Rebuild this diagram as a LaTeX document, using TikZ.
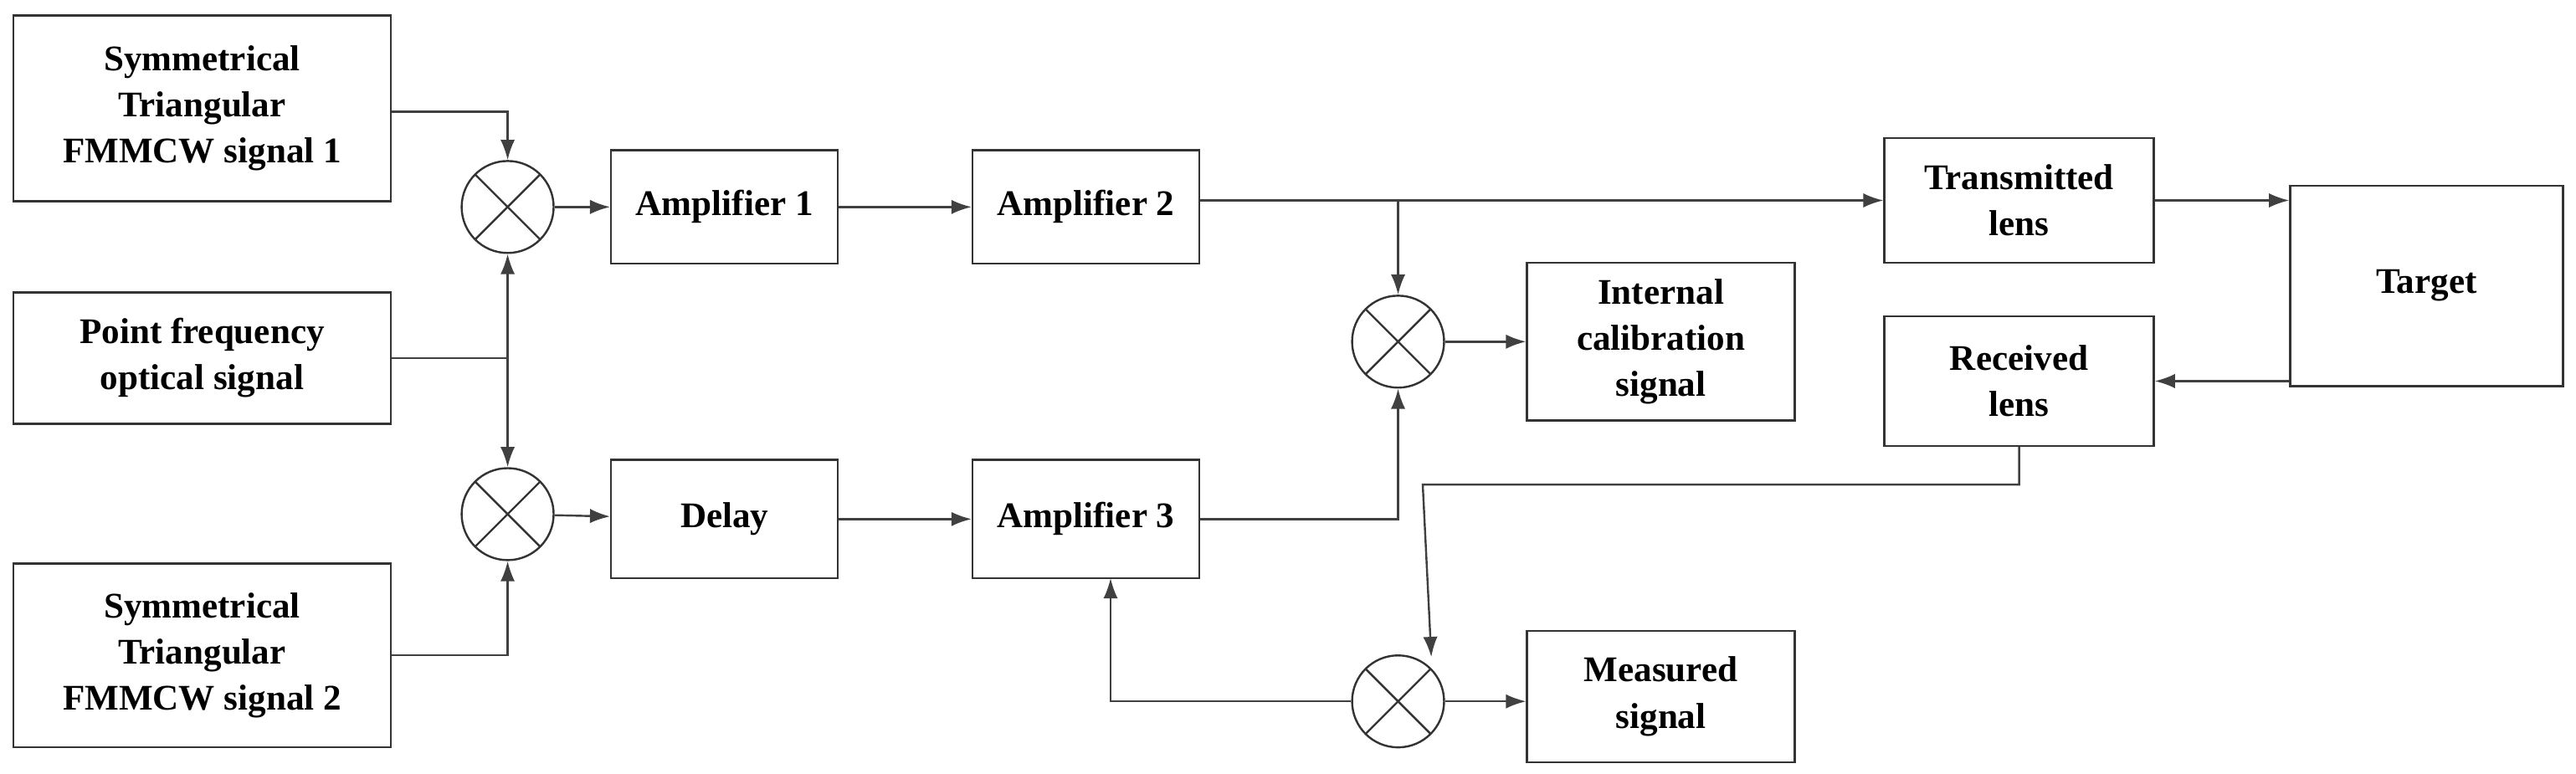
\documentclass[tikz,border=0pt]{standalone}
\usepackage{fontspec}
\setmainfont{Liberation Serif}
\usetikzlibrary{arrows.meta}
\begin{document}
\begin{tikzpicture}[x=0.02cm,y=-0.02cm,
 box/.style={draw=black!80,line width=0.7pt,rectangle,align=center,font=\fontsize{12.5}{16}\selectfont\bfseries,inner sep=0pt},
 mix/.style={draw=black!80,line width=0.7pt,circle,minimum size=1.12cm,inner sep=0pt,path picture={\draw[black!80,line width=0.7pt] (path picture bounding box.north west)--(path picture bounding box.south east) (path picture bounding box.north east)--(path picture bounding box.south west);}},
 ar/.style={draw=black!75,line width=0.7pt,-{Latex[length=7pt,width=5pt]}}]
\useasboundingbox (0,0) rectangle (1568,471);
\node[box,minimum width=4.6cm,minimum height=2.26cm] (s1) at (123,66) {Symmetrical\\Triangular\\FMMCW signal 1};
\node[box,minimum width=4.6cm,minimum height=1.6cm] (pf) at (123,218) {Point frequency\\optical signal};
\node[box,minimum width=4.6cm,minimum height=2.24cm] (s2) at (123,399) {Symmetrical\\Triangular\\FMMCW signal 2};
\node[mix] (m1) at (309,126) {};
\node[mix] (m2) at (309,313) {};
\node[mix] (m3) at (851,208) {};
\node[mix] (m4) at (851,427) {};
\node[box,minimum width=2.76cm,minimum height=1.38cm] (a1) at (441,126) {Amplifier 1};
\node[box,minimum width=2.76cm,minimum height=1.38cm] (a2) at (661,126) {Amplifier 2};
\node[box,minimum width=2.76cm,minimum height=1.44cm] (d) at (441,316) {Delay};
\node[box,minimum width=2.76cm,minimum height=1.44cm] (a3) at (661,316) {Amplifier 3};
\node[box,minimum width=3.26cm,minimum height=1.92cm] (ic) at (1011,208) {Internal\\calibration\\signal};
\node[box,minimum width=3.28cm,minimum height=1.52cm] (tl) at (1229,122) {Transmitted\\lens};
\node[box,minimum width=3.32cm,minimum height=2.44cm] (tg) at (1477,174) {Target};
\node[box,minimum width=3.28cm,minimum height=1.58cm] (rl) at (1229,232) {Received\\lens};
\node[box,minimum width=3.26cm,minimum height=1.6cm] (ms) at (1011,424) {Measured\\signal};
\coordinate (j1) at (309,218);
\coordinate (j2) at (851,122);
\draw[ar] (s1.east|-0,68) -| (m1.north);
\draw[ar] (pf.east) -- (j1) -- (m1.south);
\draw[ar] (j1) -- (m2.north);
\draw[ar] (s2.east) -| (m2.south);
\draw[ar] (m1) -- (a1);
\draw[ar] (a1) -- (a2);
\draw[ar] (m2) -- (d);
\draw[ar] (d) -- (a3);
\draw[ar] (a2.east|-0,122) -- (tl.west|-0,122);
\draw[ar] (j2) -- (m3.north);
\draw[ar] (a3.east) -| (m3.south);
\draw[ar] (m3) -- (ic);
\draw[ar] (tl.east) -- (tg.west|-0,122);
\draw[ar] (tg.west|-0,232) -- (rl.east);
\draw[ar] (rl.south) |- (866,295) -- (m4.north east|-0,400);
\draw[ar] (m4) -- (ms.west|-m4);
\draw[ar] (m4.west) -| (676,352);
\end{tikzpicture}
\end{document}
